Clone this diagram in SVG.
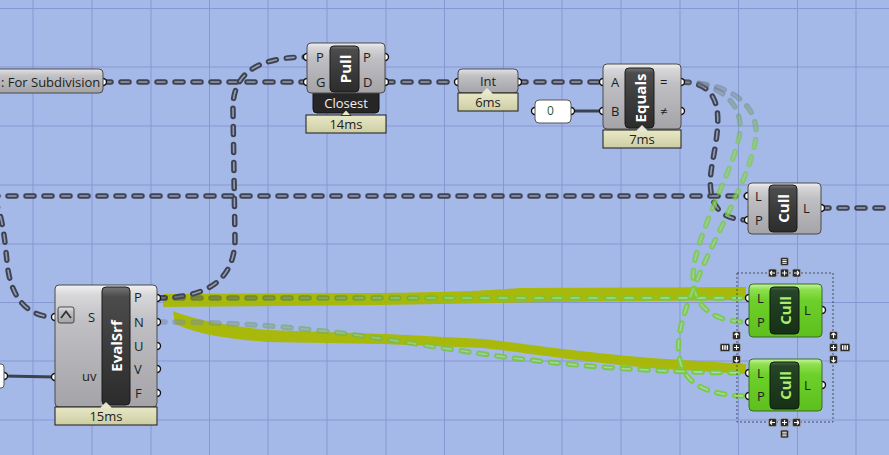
<svg xmlns="http://www.w3.org/2000/svg" xmlns:xlink="http://www.w3.org/1999/xlink" width="889" height="455" viewBox="0 0 889 455">
<style>
.grid line{stroke:#8797d2;stroke-width:1}
.wo{fill:none;stroke:#3e434f;stroke-width:5.5;stroke-dasharray:8 10;stroke-linecap:round}
.wi{fill:none;stroke:#939dbb;stroke-width:1.6;stroke-dasharray:8 10;stroke-linecap:round}
.solid{fill:none;stroke:#3b414e;stroke-width:3}
.body{fill:url(#gBody);stroke:#4a4a4a;stroke-width:1}
.gbody{fill:url(#gGreen);stroke:#3c6a28;stroke-width:1}
.cap{fill:url(#gCap);stroke:#1a1a1a;stroke-width:1}
.gcap{fill:url(#gGCap);stroke:#0c1c0c;stroke-width:1}
.prof{fill:url(#gProf);stroke:#1a1a1a;stroke-width:1}
.port{fill:#fff;stroke:#111;stroke-width:1.4}
.lbl{font-family:"Open Sans","Noto Sans",sans-serif;font-size:13px;fill:#1e1e1e}
.mid{text-anchor:middle}
.ct{font-family:"Open Sans","Noto Sans",sans-serif;font-weight:bold;font-size:15px;fill:#fff;text-anchor:middle;dominant-baseline:central}
.gct{fill:#a8ee70}
.pt{font-family:"Open Sans","Noto Sans",sans-serif;font-size:13px;fill:#222;text-anchor:middle}
.band{fill:#a8b800;opacity:0.95}
.btn{fill:#2b2b2b;stroke:#a8a8a8;stroke-width:0.7}
.ic{fill:none;stroke:#fff;stroke-width:1.1}
</style>
<defs>
<linearGradient id="gBody" x1="0" y1="0" x2="0" y2="1">
<stop offset="0" stop-color="#f2f2f2"/><stop offset="0.08" stop-color="#d8d8da"/><stop offset="0.3" stop-color="#c0c0c4"/><stop offset="1" stop-color="#a3a3a8"/>
</linearGradient>
<linearGradient id="gCap" x1="0" y1="0" x2="0" y2="1">
<stop offset="0" stop-color="#767676"/><stop offset="0.08" stop-color="#4c4c4c"/><stop offset="0.5" stop-color="#3c3c3c"/><stop offset="1" stop-color="#2c2c2c"/>
</linearGradient>
<linearGradient id="gGreen" x1="0" y1="0" x2="0" y2="1">
<stop offset="0" stop-color="#c8f5a0"/><stop offset="0.1" stop-color="#8ee050"/><stop offset="0.3" stop-color="#6ed02a"/><stop offset="1" stop-color="#5cbf1c"/>
</linearGradient>
<linearGradient id="gGCap" x1="0" y1="0" x2="0" y2="1">
<stop offset="0" stop-color="#4a6a4a"/><stop offset="0.08" stop-color="#264426"/><stop offset="1" stop-color="#163016"/>
</linearGradient>
<linearGradient id="gProf" x1="0" y1="0" x2="0" y2="1">
<stop offset="0" stop-color="#e8e8c6"/><stop offset="1" stop-color="#cdcda4"/>
</linearGradient>
<linearGradient id="gG1" gradientUnits="userSpaceOnUse" x1="157" y1="0" x2="749" y2="0">
<stop offset="0" stop-color="#3e4450" stop-opacity="0.5"/><stop offset="0.5" stop-color="#70c43a" stop-opacity="0.8"/><stop offset="1" stop-color="#77cc3c"/>
</linearGradient>
<linearGradient id="gG1i" gradientUnits="userSpaceOnUse" x1="157" y1="0" x2="749" y2="0">
<stop offset="0" stop-color="#c4d8dc" stop-opacity="0"/><stop offset="0.5" stop-color="#c4d8dc" stop-opacity="0.5"/><stop offset="1" stop-color="#c4d8dc" stop-opacity="0.75"/>
</linearGradient>
<linearGradient id="gG2" gradientUnits="userSpaceOnUse" x1="157" y1="0" x2="749" y2="0">
<stop offset="0" stop-color="#7a86a0" stop-opacity="0.5"/><stop offset="0.45" stop-color="#74c43c" stop-opacity="0.8"/><stop offset="1" stop-color="#77cc3c"/>
</linearGradient>
<linearGradient id="gG3" gradientUnits="userSpaceOnUse" x1="0" y1="82" x2="0" y2="396">
<stop offset="0" stop-color="#5a6070" stop-opacity="0.35"/><stop offset="0.2" stop-color="#77cc3c" stop-opacity="0.6"/><stop offset="0.6" stop-color="#77cc3c" stop-opacity="0.8"/><stop offset="1" stop-color="#77cc3c" stop-opacity="0.95"/>
</linearGradient>
<linearGradient id="gG3i" gradientUnits="userSpaceOnUse" x1="0" y1="82" x2="0" y2="396">
<stop offset="0" stop-color="#c4d8dc" stop-opacity="0.1"/><stop offset="1" stop-color="#c4d8dc" stop-opacity="0.7"/>
</linearGradient>
<path id="w1" d="M103,82 L307,82"/>
<path id="w2" d="M385,82 L458,82"/>
<path id="w3" d="M518,82 L603,82"/>
<path id="w4" d="M157,298 C200,298 234,285 235,240 L233,110 C232,75 255,57 307,57"/>
<path id="w5" d="M-10,196 L748,196"/>
<path id="w6" d="M-6,200 C2,212 5,240 7,262 C10,295 25,317 55,317"/>
<path id="w7" d="M681,82 C730,82 718,130 712,165 C707,195 712,220 748,220"/>
<path id="w8" d="M821,208 L895,208"/>
<path id="g1" d="M157,298 L749,298"/>
<path id="g2" d="M157,322 C400,322 450,370 749,373"/>
<path id="g3" d="M681,82 C715,82 742,100 740,130 C738,160 705,215 695,260 C688,295 700,322 749,322"/>
<path id="g4" d="M681,82 C730,82 758,105 756,135 C754,170 715,235 695,285 C672,340 660,396 749,396"/>
<symbol id="bL" viewBox="0 0 9 9"><rect class="btn" x="0.5" y="0.5" width="8" height="8" rx="1.5"/><path class="ic" d="M2,4.5 H7 M2,4.5 L4,2.5 M2,4.5 L4,6.5"/></symbol>
<symbol id="bR" viewBox="0 0 9 9"><rect class="btn" x="0.5" y="0.5" width="8" height="8" rx="1.5"/><path class="ic" d="M2,4.5 H7 M7,4.5 L5,2.5 M7,4.5 L5,6.5"/></symbol>
<symbol id="bU" viewBox="0 0 9 9"><rect class="btn" x="0.5" y="0.5" width="8" height="8" rx="1.5"/><path class="ic" d="M4.5,2 V7 M4.5,2 L2.5,4 M4.5,2 L6.5,4"/></symbol>
<symbol id="bD" viewBox="0 0 9 9"><rect class="btn" x="0.5" y="0.5" width="8" height="8" rx="1.5"/><path class="ic" d="M4.5,2 V7 M4.5,7 L2.5,5 M4.5,7 L6.5,5"/></symbol>
<symbol id="bP" viewBox="0 0 9 9"><rect class="btn" x="0.5" y="0.5" width="8" height="8" rx="1.5"/><path class="ic" d="M4.5,2 V7 M2,4.5 H7"/></symbol>
<symbol id="bM" viewBox="0 0 9 9"><rect class="btn" x="0.5" y="0.5" width="8" height="8" rx="1.5"/><path class="ic" d="M2.3,2.8 H6.7 M2.3,4.5 H6.7 M2.3,6.2 H6.7"/></symbol>
<symbol id="bB" viewBox="0 0 11 9"><rect class="btn" x="0.5" y="0.5" width="10" height="8" rx="1.5"/><path class="ic" d="M3,2.3 V6.7 M4.7,2.3 V6.7 M6.3,2.3 V6.7 M8,2.3 V6.7"/></symbol>
</defs>

<rect width="889" height="455" fill="#a5b9e9"/>
<g class="grid">
<line x1="33" y1="0" x2="33" y2="455"/><line x1="92" y1="0" x2="92" y2="455"/><line x1="151" y1="0" x2="151" y2="455"/><line x1="209.5" y1="0" x2="209.5" y2="455"/><line x1="268" y1="0" x2="268" y2="455"/><line x1="327" y1="0" x2="327" y2="455"/><line x1="386" y1="0" x2="386" y2="455"/><line x1="444.5" y1="0" x2="444.5" y2="455"/><line x1="503.5" y1="0" x2="503.5" y2="455"/><line x1="562" y1="0" x2="562" y2="455"/><line x1="621" y1="0" x2="621" y2="455"/><line x1="680" y1="0" x2="680" y2="455"/><line x1="738.5" y1="0" x2="738.5" y2="455"/><line x1="797.5" y1="0" x2="797.5" y2="455"/><line x1="856" y1="0" x2="856" y2="455"/>
<line x1="0" y1="8.5" x2="889" y2="8.5"/><line x1="0" y1="67" x2="889" y2="67"/><line x1="0" y1="126" x2="889" y2="126"/><line x1="0" y1="185" x2="889" y2="185"/><line x1="0" y1="244" x2="889" y2="244"/><line x1="0" y1="302.5" x2="889" y2="302.5"/><line x1="0" y1="361" x2="889" y2="361"/><line x1="0" y1="420" x2="889" y2="420"/>
</g>

<g id="highlights">
<path class="band" d="M163,294 L380,293 C450,292 480,291 520,288 L746,287 L746,300 L550,302 L383,305 L163,307 Z"/>
<path class="band" d="M173,311 C190,318 220,325 267,330 L383,334 C430,336 460,338 483,339 C520,343 560,350 650,358 L746,364 L746,374 L650,368 C560,359 520,352 483,348 L383,344 L267,342 C230,339 200,335 175,324 Z"/>
</g>

<g id="connectors">
<path class="solid" d="M571,111 L603,111"/>
<path class="solid" d="M4,376 L55,377"/>
<use href="#w1" class="wo"/><use href="#w1" class="wi"/>
<use href="#w2" class="wo"/><use href="#w2" class="wi"/>
<use href="#w3" class="wo"/><use href="#w3" class="wi"/>
<use href="#w4" class="wo"/><use href="#w4" class="wi"/>
<use href="#w5" class="wo"/><use href="#w5" class="wi"/>
<use href="#w6" class="wo"/><use href="#w6" class="wi"/>
<use href="#w7" class="wo"/><use href="#w7" class="wi"/>
<use href="#w8" class="wo"/><use href="#w8" class="wi"/>
<use href="#g1" class="wo" style="stroke:url(#gG1)"/><use href="#g1" class="wi" style="stroke:url(#gG1i)"/>
<use href="#g2" class="wo" style="stroke:url(#gG2)"/><use href="#g2" class="wi" style="stroke:url(#gG1i)"/>
<use href="#g3" class="wo" style="stroke:url(#gG3)"/><use href="#g3" class="wi" style="stroke:url(#gG3i)"/>
<use href="#g4" class="wo" style="stroke:url(#gG3)"/><use href="#g4" class="wi" style="stroke:url(#gG3i)"/>
</g>

<g id="node-for-subdivision">
<circle class="port" cx="103" cy="82" r="3.5"/>
<rect class="body" x="-12" y="69" width="115" height="24" rx="4"/>
<text class="lbl" x="1" y="87" font-size="12.8">: For Subdivision</text>
</g>

<g id="node-pull">
<circle class="port" cx="307" cy="57" r="3.5"/><circle class="port" cx="307" cy="82" r="3.5"/>
<circle class="port" cx="385" cy="57" r="3.5"/><circle class="port" cx="385" cy="82" r="3.5"/>
<rect x="313" y="85" width="66" height="28" rx="4" fill="#262626" stroke="#111"/>
<rect class="body" x="307" y="43" width="78" height="50" rx="4"/>
<rect class="cap" x="330" y="46" width="29" height="46" rx="4"/>
<text class="ct" transform="translate(344.5,69) rotate(-90)">Pull</text>
<text class="lbl" x="316" y="62">P</text><text class="lbl" x="316" y="87">G</text>
<text class="lbl" x="363" y="62">P</text><text class="lbl" x="363" y="87">D</text>
<text class="lbl mid" x="346" y="108" style="fill:#f0f0f0">Closest</text>
<rect class="prof" x="306" y="115" width="80" height="18"/>
<polygon points="341,115.5 346,110 351,115.5" fill="#e8e8c6" stroke="#1a1a1a" stroke-width="0.8"/>
<text class="pt" x="346" y="129">14ms</text>
</g>

<g id="node-int">
<circle class="port" cx="458" cy="82" r="3.5"/><circle class="port" cx="518" cy="82" r="3.5"/>
<rect class="body" x="458" y="69" width="60" height="24" rx="4"/>
<text class="lbl mid" x="488" y="86" font-size="13.5">Int</text>
<rect class="prof" x="458" y="93" width="60" height="18"/>
<polygon points="482,93.5 487,88.5 492,93.5" fill="#e8e8c6" stroke="#f4f4f4" stroke-width="0.8"/>
<text class="pt" x="488" y="107">6ms</text>
</g>

<g id="node-panel-0">
<circle class="port" cx="535" cy="111" r="3.5"/><circle class="port" cx="571" cy="111" r="3.5"/>
<rect x="535" y="100" width="36" height="23" rx="4" fill="#fff" stroke="#555"/>
<text x="547" y="115" font-family="'Open Sans','Noto Sans',sans-serif" font-size="12" fill="#2d5a2d">0</text>
</g>

<g id="node-equals">
<circle class="port" cx="603" cy="82" r="3.5"/><circle class="port" cx="603" cy="111" r="3.5"/>
<circle class="port" cx="681" cy="82" r="3.5"/><circle class="port" cx="681" cy="111" r="3.5"/>
<rect class="body" x="603" y="64" width="78" height="65" rx="4"/>
<rect class="cap" x="625" y="68" width="29" height="60" rx="4"/>
<text class="ct" transform="translate(639.5,98) rotate(-90)">Equals</text>
<text class="lbl" x="611" y="87">A</text><text class="lbl" x="611" y="116">B</text>
<text class="lbl" x="660" y="87">=</text><text class="lbl" x="660" y="116">≠</text>
<rect class="prof" x="603" y="130" width="78" height="18"/>
<polygon points="637,130.5 642,125.5 647,130.5" fill="#e8e8c6" stroke="#f4f4f4" stroke-width="0.8"/>
<text class="pt" x="642" y="144">7ms</text>
</g>

<g id="node-cull-top">
<circle class="port" cx="748" cy="196" r="3.5"/><circle class="port" cx="748" cy="220" r="3.5"/>
<circle class="port" cx="821" cy="208" r="3.5"/>
<rect class="body" x="748" y="183" width="73" height="51" rx="4"/>
<rect class="cap" x="769" y="185" width="28" height="47" rx="4"/>
<text class="ct" transform="translate(783,208.5) rotate(-90)">Cull</text>
<text class="lbl" x="755" y="201">L</text><text class="lbl" x="755" y="225">P</text>
<text class="lbl" x="803" y="213">L</text>
</g>

<g id="node-evalsrf">
<circle class="port" cx="55" cy="317" r="3.5"/><circle class="port" cx="55" cy="377" r="3.5"/>
<circle class="port" cx="157" cy="298" r="3.5"/><circle class="port" cx="157" cy="322" r="3.5"/><circle class="port" cx="157" cy="346" r="3.5"/><circle class="port" cx="157" cy="369" r="3.5"/><circle class="port" cx="157" cy="393" r="3.5"/>
<rect class="body" x="55" y="285" width="102" height="122" rx="4"/>
<rect x="58" y="307" width="16" height="16" rx="2" fill="url(#gBody)" stroke="#444"/>
<polyline points="61,318 66,311.5 71,318" fill="none" stroke="#333" stroke-width="1.8"/>
<rect class="cap" x="102" y="287" width="28" height="118" rx="4"/>
<text class="ct" transform="translate(116,346) rotate(-90)" font-size="16">EvalSrf</text>
<text class="lbl" x="88" y="322">S</text><text class="lbl" x="82" y="381" font-size="12">uv</text>
<text class="lbl" x="134" y="302">P</text><text class="lbl" x="134" y="327">N</text><text class="lbl" x="134" y="351">U</text><text class="lbl" x="134" y="374">V</text><text class="lbl" x="135" y="398">F</text>
<rect class="prof" x="55" y="407" width="102" height="18"/>
<polygon points="101,407.5 106,402.5 111,407.5" fill="#e8e8c6" stroke="#f4f4f4" stroke-width="0.8"/>
<text class="pt" x="106" y="421">15ms</text>
</g>

<g id="node-uv-source">
<circle class="port" cx="4" cy="376" r="3.5"/>
<rect x="-10" y="364" width="14" height="24" rx="3" fill="#fff" stroke="#555"/>
</g>

<g id="node-cull-1">
<circle class="port" cx="749" cy="298" r="3.5"/><circle class="port" cx="749" cy="322" r="3.5"/>
<circle class="port" cx="822" cy="310" r="3.5"/>
<rect class="gbody" x="749" y="284" width="73" height="53" rx="4"/>
<rect class="gcap" x="770" y="287" width="29" height="47" rx="4"/>
<text class="ct gct" transform="translate(784.5,310.5) rotate(-90)">Cull</text>
<text class="lbl" x="757" y="303">L</text><text class="lbl" x="757" y="327">P</text>
<text class="lbl" x="804" y="315">L</text>
</g>

<g id="node-cull-2">
<circle class="port" cx="749" cy="373" r="3.5"/><circle class="port" cx="749" cy="396" r="3.5"/>
<circle class="port" cx="822" cy="385" r="3.5"/>
<rect class="gbody" x="749" y="359" width="73" height="52" rx="4"/>
<rect class="gcap" x="770" y="362" width="29" height="47" rx="4"/>
<text class="ct gct" transform="translate(784.5,385.5) rotate(-90)">Cull</text>
<text class="lbl" x="757" y="378">L</text><text class="lbl" x="757" y="401">P</text>
<text class="lbl" x="804" y="390">L</text>
</g>

<g id="selection">
<rect x="737" y="273" width="96" height="149" fill="none" stroke="#333" stroke-width="0.8" stroke-dasharray="2 2"/>
<use href="#bM" x="780" y="257" width="9" height="9"/>
<use href="#bL" x="768" y="268.5" width="9" height="9"/><use href="#bP" x="780" y="268.5" width="9" height="9"/><use href="#bR" x="792" y="268.5" width="9" height="9"/>
<use href="#bL" x="768" y="418" width="9" height="9"/><use href="#bP" x="780" y="418" width="9" height="9"/><use href="#bR" x="792" y="418" width="9" height="9"/>
<use href="#bM" x="780" y="429.5" width="9" height="9"/>
<use href="#bU" x="732" y="331" width="9" height="9"/><use href="#bP" x="732" y="343" width="9" height="9"/><use href="#bD" x="732" y="355" width="9" height="9"/>
<use href="#bB" x="719.5" y="343" width="11" height="9"/>
<use href="#bU" x="829" y="331" width="9" height="9"/><use href="#bP" x="829" y="343" width="9" height="9"/><use href="#bD" x="829" y="355" width="9" height="9"/>
<use href="#bB" x="839.5" y="343" width="11" height="9"/>
</g>
</svg>
